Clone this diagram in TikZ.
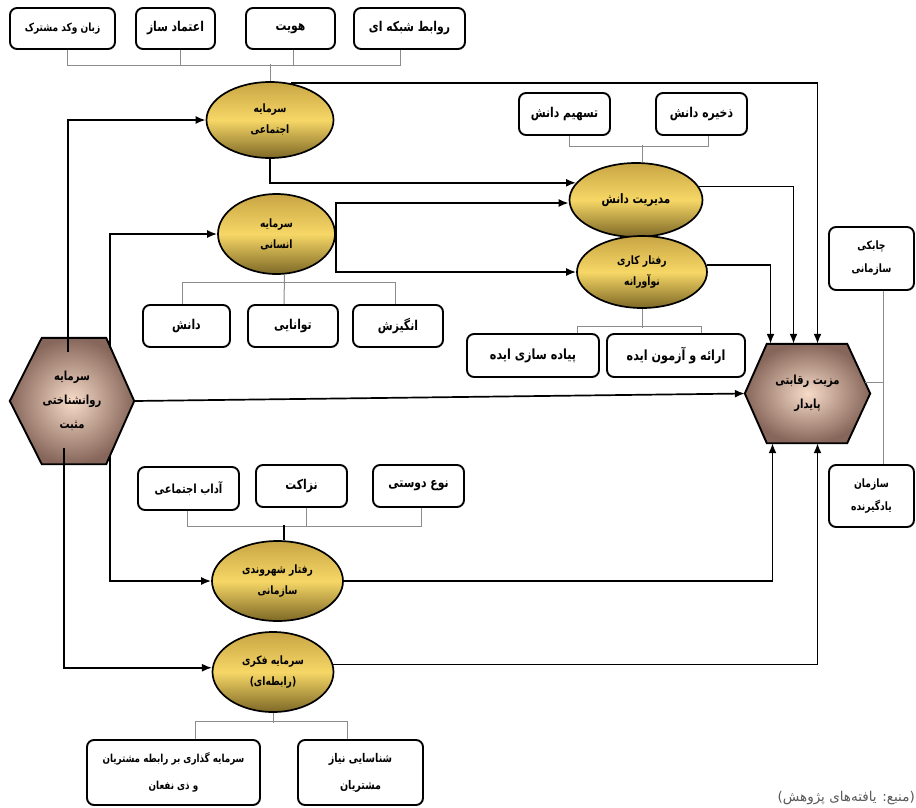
\documentclass[tikz,border=0pt]{standalone}
\usepackage{fontspec}
\usetikzlibrary{arrows.meta,calc,backgrounds,shapes.geometric}
\TeXXeTstate=1
\newfontfamily\fa[Script=Arabic, FakeStretch=0.8]{DejaVu Sans}
\newfontfamily\fb[Script=Arabic]{DejaVu Sans}
\newcommand{\rt}[1]{\beginR #1\endR}
\definecolor{goldA}{HTML}{C8A544}
\definecolor{goldB}{HTML}{F6D766}
\definecolor{goldC}{HTML}{7E6826}
\definecolor{hexin}{HTML}{F7DBC8}
\definecolor{hexout}{HTML}{86665A}
\definecolor{brkgray}{HTML}{8C8C8C}
\tikzset{
  bx/.style={draw=black, line width=1.9pt, rounded corners=7pt, fill=white, inner sep=0pt, align=center,
    font=\fa\bfseries\fontsize{13.5}{24}\selectfont},
  el/.style={ellipse, draw=black, line width=1.7pt, top color=goldA, bottom color=goldC, middle color=goldB,
    inner sep=0pt, align=center, font=\fa\bfseries\fontsize{11.5}{21}\selectfont},
  hx/.style={inner sep=0pt, align=center, font=\fa\bfseries\fontsize{12.5}{24}\selectfont},
  hexs/.style={draw=black, line width=1.9pt, inner color=hexin, outer color=hexout},
  arr/.style={draw=black, line width=1.7pt, -{Latex[length=10pt,width=8pt]}},
  ln/.style={draw=black, line width=1.7pt},
  brk/.style={draw=brkgray, line width=1pt},
}
\begin{document}
\begin{tikzpicture}[x=1pt,y=-1pt]
\useasboundingbox (0,0) rectangle (916,807);

% ---------- top boxes ----------
\node[bx, minimum width=105pt, minimum height=41pt, font=\fa\bfseries\fontsize{11.3}{20}\selectfont] (t1) at (62.5,28.5) {\rt{زبان وکد مشترک}};
\node[bx, minimum width=79pt, minimum height=41pt] (t2) at (175.5,28.5) {\rt{اعتماد ساز}};
\node[bx, minimum width=89pt, minimum height=41pt] (t3) at (290.5,28.5) {\rt{هویت}};
\node[bx, minimum width=111pt, minimum height=41pt] (t4) at (409.5,28.5) {\rt{روابط شبکه ای}};

% ---------- ellipses ----------
\node[el, minimum width=127pt, minimum height=76pt] (sa) at (270,120) {\rt{سرمایه}\\\rt{اجتماعی}};
\node[el, minimum width=133pt, minimum height=74pt, font=\fa\bfseries\fontsize{13}{21}\selectfont] (km) at (636,200) {\rt{مدیریت دانش}};
\node[el, minimum width=130pt, minimum height=72pt] (ik) at (642,272) {\rt{رفتار کاری}\\\rt{نوآورانه}};
\node[el, minimum width=117pt, minimum height=80pt] (ha) at (276.5,234) {\rt{سرمایه}\\\rt{انسانی}};
\node[el, minimum width=131pt, minimum height=80pt] (rs) at (277.5,581) {\rt{رفتار شهروندی}\\\rt{سازمانی}};
\node[el, minimum width=121pt, minimum height=80pt] (fk) at (273,672) {\rt{سرمایه فکری}\\\rt{(رابطه‌ای)}};

% ---------- knowledge boxes ----------
\node[bx, minimum width=91pt, minimum height=42pt] (ts) at (564.5,114) {\rt{تسهیم دانش}};
\node[bx, minimum width=91pt, minimum height=42pt] (zd) at (701.5,114) {\rt{ذخیره دانش}};

% ---------- human capital boxes ----------
\node[bx, minimum width=87pt, minimum height=42pt] (d) at (186.5,326) {\rt{دانش}};
\node[bx, minimum width=90pt, minimum height=42pt] (tv) at (293,326) {\rt{توانایی}};
\node[bx, minimum width=90pt, minimum height=42pt] (an) at (398,326) {\rt{انگیزش}};

% ---------- innovation boxes ----------
\node[bx, minimum width=138pt, minimum height=43pt, font=\fa\bfseries\fontsize{14}{24}\selectfont] (pe) at (676,355.5) {\rt{ارائه و آزمون ایده}};
\node[bx, minimum width=132pt, minimum height=43pt, font=\fa\bfseries\fontsize{14}{24}\selectfont] (ps) at (533,355.5) {\rt{پیاده سازی ایده}};

% ---------- citizenship boxes ----------
\node[bx, minimum width=101pt, minimum height=43pt, font=\fa\bfseries\fontsize{12.5}{20}\selectfont] (ad) at (188.5,488.5) {\rt{آداب اجتماعی}};
\node[bx, minimum width=91pt, minimum height=42pt] (nz) at (301.5,486) {\rt{نزاکت}};
\node[bx, minimum width=91pt, minimum height=42pt] (nd) at (418.5,486) {\rt{نوع دوستی}};

% ---------- intellectual capital boxes ----------
\node[bx, minimum width=173pt, minimum height=65pt, font=\fa\bfseries\fontsize{11}{27}\selectfont] (sg) at (173.5,772.5) {\rt{سرمایه گذاری بر رابطه مشتریان}\\\rt{و ذی نفعان}};
\node[bx, minimum width=125pt, minimum height=65pt, font=\fa\bfseries\fontsize{12}{27}\selectfont] (sn) at (360.5,772.5) {\rt{شناسایی نیاز}\\\rt{مشتریان}};

% ---------- right boxes ----------
\node[bx, minimum width=85pt, minimum height=63pt, font=\fa\bfseries\fontsize{11.5}{23}\selectfont] (ch) at (871.5,258.5) {\rt{چابکی}\\\rt{سازمانی}};
\node[bx, minimum width=85pt, minimum height=62pt, font=\fa\bfseries\fontsize{11.5}{23}\selectfont] (ly) at (871.5,496) {\rt{سازمان}\\\rt{یادگیرنده}};

% ---------- hexagons ----------
\node[hx, minimum width=124pt, minimum height=126pt] (psy) at (72,401) {\rt{سرمایه}\\\rt{روانشناختی}\\\rt{مثبت}};
\node[hx, minimum width=125pt, minimum height=99pt] (mz) at (807.5,393.5) {\rt{مزیت رقابتی}\\\rt{پایدار}};
\begin{scope}[on background layer]
\path[hexs] (psy.west) -- ($(psy.north west)+(32,0)$) -- ($(psy.north east)+(-28,0)$) -- (psy.east)
  -- ($(psy.south east)+(-28,0)$) -- ($(psy.south west)+(32,0)$) -- cycle;
\path[hexs] (mz.west) -- ($(mz.north west)+(22,0)$) -- ($(mz.north east)+(-23,0)$) -- (mz.east)
  -- ($(mz.south east)+(-23,0)$) -- ($(mz.south west)+(22,0)$) -- cycle;
\end{scope}

% ---------- brackets ----------
\draw[brk] ($(t1.south)+(4.5,0)$) |- ($(t4.south)+(-9.5,16)$) -- ($(t4.south)+(-9.5,0)$);
\draw[brk] ($(t2.south)+(4.5,0)$) -- ++(0,16);
\draw[brk] ($(t3.south)+(2.5,0)$) -- ++(0,16);
\draw[brk] (sa.north) -- ++(0,-17);

\draw[brk] ($(ts.south)+(4.5,0)$) |- ($(zd.south)+(6.5,11)$) -- ($(zd.south)+(6.5,0)$);
\draw[brk] ($(km.north)+(6,0)$) -- ++(0,-17);

\draw[brk] ($(d.north)+(-4.5,0)$) |- ($(an.north)+(-3,-22)$) -- ($(an.north)+(-3,0)$);
\draw[brk] ($(ha.south)+(8,0)$) -- ($(tv.north)+(-9,0)$);

\draw[brk] ($(ps.north)+(44,0)$) |- ($(pe.north)+(25,-7)$) -- ($(pe.north)+(25,0)$);
\draw[brk] (ik.south) -- ++(0,19);

\draw[brk] ($(ad.south)+(-1.5,0)$) |- ($(nd.south)+(2.5,19)$) -- ($(nd.south)+(2.5,0)$);
\draw[brk] ($(nz.south)+(4.5,0)$) -- ++(0,19);
\draw[ln, line width=1.2pt] ($(rs.north)+(6.5,0)$) -- ++(0,-15);

\draw[brk] ($(sg.north)+(21.5,0)$) |- ($(sn.north)+(-13.5,-18)$) -- ($(sn.north)+(-13.5,0)$);
\draw[brk] (fk.south) -- ++(0,10);

\draw[brk] ($(ch.south)+(11.5,0)$) -- ($(ly.north)+(11.5,0)$);
\draw[brk] ($(mz.east)+(-5,-11.5)$) -- ++(18,0);

% ---------- connectors ----------
\draw[arr] ($(psy.north)+(-4,14)$) |- (sa.west);
\draw[arr] ($(psy.north east)+(-24,10)$) |- (ha.west);
\draw[arr] (psy.east) -- (mz.west);
\draw[arr] ($(psy.south east)+(-24,-9)$) |- (rs.west);
\draw[arr] ($(psy.south)+(-8,-16)$) |- (fk.176);

\draw[arr] (sa.south) |- (km.164);
\draw[arr] (sa.60) -| ($(mz.north)+(10,0)$);
\draw[arr] (ha.east) |- ($(km.west)+(0,3)$);
\draw[arr] (ha.east) |- (ik.west);
\draw[arr] (km.12) -| ($(mz.north)+(-14,0)$);
\draw[arr] (ik.6) -| ($(mz.north)+(-37,0)$);
\draw[arr] (rs.east) -| ($(mz.south)+(-35,0)$);
\draw[arr] (fk.7) -| ($(mz.south)+(10,0)$);

% ---------- source ----------
\node[anchor=east, inner sep=0pt, text=black!65, font=\fb\fontsize{13.5}{15}\selectfont] (src) at (915,798) {\rt{(منبع: یافته‌های پژوهش)}};
\end{tikzpicture}
\end{document}
